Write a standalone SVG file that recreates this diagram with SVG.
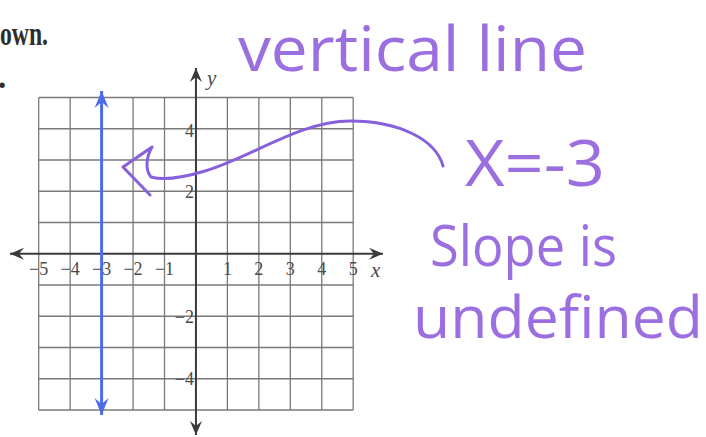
<svg xmlns="http://www.w3.org/2000/svg" width="706" height="437" viewBox="0 0 706 437">
  <style>
    .grid line { stroke: #7a7a7a; stroke-width: 1.3; }
    .axis { stroke: #3a3a3a; stroke-width: 2; fill: none; }
    .tick { font-family: "Liberation Serif", serif; font-size: 18px; fill: #4a4a4a; }
    .axlbl { font-family: "Liberation Serif", serif; font-style: italic; font-size: 21px; fill: #4a4a4a; }
    .book { font-family: "Liberation Serif", serif; font-weight: bold; font-size: 33px; fill: #2e2e2e; }
    .hand { font-family: "Open Sans", "DejaVu Sans", sans-serif; fill: #9b6fe0; }
    .pen { stroke: #8660dd; stroke-width: 3; fill: none; stroke-linecap: round; stroke-linejoin: round; }
    .vline { stroke: #4d6cea; stroke-width: 3; fill: none; }
  </style>
  <defs>
    <marker id="ahDark" viewBox="-15 -7 16 14" refX="0" refY="0" markerWidth="16" markerHeight="14" markerUnits="userSpaceOnUse" orient="auto-start-reverse">
      <path d="M0,0 L-14,-6 L-9,0 L-14,6 Z" fill="#3a3a3a"/>
    </marker>
    <marker id="ahBlue" viewBox="-18 -8 19 16" refX="0" refY="0" markerWidth="19" markerHeight="16" markerUnits="userSpaceOnUse" orient="auto-start-reverse">
      <path d="M0,0 L-17,-7 L-11,0 L-17,7 Z" fill="#4d6cea"/>
    </marker>
  </defs>
  <rect width="706" height="437" fill="#ffffff"/>

  <g id="book-text">
    <text class="book" x="0" y="45" textLength="48" lengthAdjust="spacingAndGlyphs">own.</text>
    <text class="book" x="-2" y="88">.</text>
  </g>

  <g id="grid" class="grid">
    <line x1="38.7" y1="97.5" x2="38.7" y2="410"/>
    <line x1="70.15" y1="97.5" x2="70.15" y2="410"/>
    <line x1="101.6" y1="97.5" x2="101.6" y2="410"/>
    <line x1="133.05" y1="97.5" x2="133.05" y2="410"/>
    <line x1="164.5" y1="97.5" x2="164.5" y2="410"/>
    <line x1="227.4" y1="97.5" x2="227.4" y2="410"/>
    <line x1="258.85" y1="97.5" x2="258.85" y2="410"/>
    <line x1="290.3" y1="97.5" x2="290.3" y2="410"/>
    <line x1="321.75" y1="97.5" x2="321.75" y2="410"/>
    <line x1="353.2" y1="97.5" x2="353.2" y2="410"/>
    <line x1="38.7" y1="97.5" x2="353.2" y2="97.5"/>
    <line x1="38.7" y1="128.75" x2="353.2" y2="128.75"/>
    <line x1="38.7" y1="160" x2="353.2" y2="160"/>
    <line x1="38.7" y1="191.25" x2="353.2" y2="191.25"/>
    <line x1="38.7" y1="222.5" x2="353.2" y2="222.5"/>
    <line x1="38.7" y1="285" x2="353.2" y2="285"/>
    <line x1="38.7" y1="316.25" x2="353.2" y2="316.25"/>
    <line x1="38.7" y1="347.5" x2="353.2" y2="347.5"/>
    <line x1="38.7" y1="378.75" x2="353.2" y2="378.75"/>
    <line x1="38.7" y1="410" x2="353.2" y2="410"/>
  </g>

  <g id="connectors">
    <path id="x-axis" class="axis" d="M10,253.75 L383,253.75" marker-start="url(#ahDark)" marker-end="url(#ahDark)"/>
    <path id="y-axis" class="axis" d="M195.95,435 L195.95,68" marker-start="url(#ahDark)" marker-end="url(#ahDark)"/>
    <path id="line-x-minus-3" class="vline" d="M101.6,415 L101.6,91" marker-start="url(#ahBlue)" marker-end="url(#ahBlue)"/>
    <path id="pointer" class="pen" d="M443,166 C436,140 400,121 350,121 C300,121 250,158 205,171 C185,177 165,181 151,177 C145,170 146,157 152,147 L123,167 L150,195"/>
  </g>

  <g id="x-ticks" class="tick" text-anchor="middle">
    <text x="38.7" y="275">−5</text>
    <text x="70.15" y="275">−4</text>
    <text x="101.6" y="275">−3</text>
    <text x="133.05" y="275">−2</text>
    <text x="164.5" y="275">−1</text>
    <text x="227.4" y="275">1</text>
    <text x="258.85" y="275">2</text>
    <text x="290.3" y="275">3</text>
    <text x="321.75" y="275">4</text>
    <text x="353.2" y="275">5</text>
  </g>
  <g id="y-ticks" class="tick" text-anchor="end">
    <text x="194" y="137">4</text>
    <text x="194" y="198">2</text>
    <text x="194" y="323">−2</text>
    <text x="194" y="385">−4</text>
  </g>
  <g id="axis-labels" class="axlbl">
    <text x="207" y="85">y</text>
    <text x="371" y="277">x</text>
  </g>

  <g id="note-vertical-line">
    <text class="hand" x="238" y="71" font-size="62" textLength="349" lengthAdjust="spacingAndGlyphs">vertical line</text>
  </g>
  <g id="note-equation">
    <text class="hand" x="465" y="186" font-size="64" textLength="140" lengthAdjust="spacingAndGlyphs">X=-3</text>
  </g>
  <g id="note-slope">
    <text class="hand" x="430" y="266" font-size="56" textLength="187" lengthAdjust="spacingAndGlyphs">Slope is</text>
    <text class="hand" x="413" y="338" font-size="58" textLength="290" lengthAdjust="spacingAndGlyphs">undefined</text>
  </g>
</svg>
